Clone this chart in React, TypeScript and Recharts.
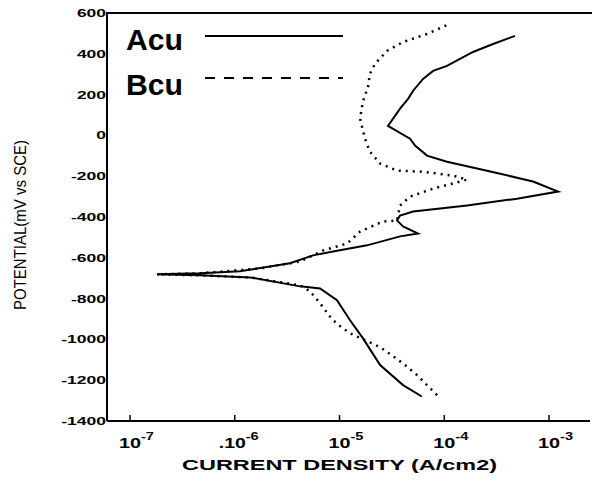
import { LineChart, Line, XAxis, YAxis, ReferenceLine } from "recharts"

// Acu (solid) polarization curve: cathodic end -> Ecorr -> anodic end
const acuCurrent = [
  6.1e-5, 4.04e-5, 2.44e-5, 1.67e-5, 1.26e-5, 9.46e-6, 6.52e-6, 4.2e-6, 1.4e-6, 4.66e-7,
  1.81e-7, 4.66e-7, 1.12e-6, 3.37e-6, 5.58e-6, 8.67e-6, 1.83e-5, 3.78e-5, 5.61e-5, 4.04e-5,
  3.54e-5, 3.78e-5, 5.04e-5, 1.65e-4, 4.94e-4, 1.22e-3, 7.03e-4, 2.56e-4, 1.06e-4, 6.84e-5,
  5.26e-5, 4.71e-5, 2.9e-5, 3.78e-5, 4.51e-5, 5.04e-5, 6.27e-5, 7.82e-5, 1.06e-4, 1.88e-4,
  2.92e-4, 4.73e-4,
]
const acuPotential = [
  -1280, -1224, -1126, -994, -906, -808, -750, -740, -696, -686,
  -681, -676, -666, -627, -588, -569, -539, -495, -481, -446,
  -417, -393, -373, -344, -310, -275, -226, -173, -129, -99,
  -50, -16, 47, 131, 179, 219, 277, 316, 341, 409,
  448, 488,
]

// Bcu (dotted) polarization curve
const bcuCurrent = [
  8.53e-5, 6.84e-5, 5.5e-5, 4.22e-5, 3.24e-5, 2.44e-5, 1.26e-5, 1.01e-5, 8.47e-6, 6.52e-6,
  5.22e-6, 4.2e-6, 1.4e-6, 4.66e-7, 1.81e-7, 4.66e-7, 1.74e-6, 4.2e-6, 6.97e-6, 1.18e-5,
  1.57e-5, 2.6e-5, 3.54e-5, 3.78e-5, 4.71e-5, 7.82e-5, 1.65e-4, 1.21e-4, 8.53e-5, 6.27e-5,
  3.54e-5, 2.44e-5, 1.95e-5, 1.75e-5, 1.57e-5, 1.67e-5, 1.87e-5, 1.95e-5, 2.18e-5, 2.84e-5,
  4.04e-5, 6.84e-5, 1.06e-4,
]
const bcuPotential = [
  -1273, -1224, -1175, -1126, -1082, -1038, -970, -935, -901, -823,
  -764, -735, -696, -686, -681, -676, -652, -618, -564, -530,
  -471, -422, -417, -344, -300, -261, -217, -197, -187, -178,
  -173, -138, -80, -16, 82, 165, 238, 302, 351, 414,
  458, 497, 541,
]

const potentialTicks = [600, 400, 200, 0, -200, -400, -600, -800, -1000, -1200, -1400]
const currentTicks = [1e-7, 1e-6, 1e-5, 1e-4, 1e-3]
const currentTickBase = ["10", ".10", "10", "10", "10"]
const currentTickExp = ["-7", "-6", "-5", "-4", "-3"]

const seriesNames = ["Acu", "Bcu"]

const FONT = "'Liberation Sans', Arial, Helvetica, sans-serif"

const toPoints = (cur: number[], pot: number[]) =>
  cur.map((c, i) => ({ current: c, potential: pot[i] }))

function PotentialTick({ x, y, payload }: any) {
  const s = String(payload.value)
  const w = s.replace("-", "").length * 9.7 + (s.startsWith("-") ? 6 : 0)
  return (
    <text x={x - w} y={y + 4} textLength={w} lengthAdjust="spacingAndGlyphs" fontFamily={FONT} fontWeight="bold" fontSize={11} fill="#000">
      {s}
    </text>
  )
}

function CurrentTick({ x, y, payload }: any) {
  const i = currentTicks.indexOf(payload.value)
  const base = currentTickBase[i]
  const dot = base.startsWith(".") ? 5 : 0
  return (
    <g>
      <line x1={x} x2={x} y1={y} y2={y - 6} stroke="#000" strokeWidth={1.5} />
      <text x={x - 11 - dot} y={y + 27} textLength={22 + dot} lengthAdjust="spacingAndGlyphs" fontFamily={FONT} fontWeight="bold" fontSize={15} fill="#000">
        {base}
      </text>
      <text x={x + 11} y={y + 19} textLength={13} lengthAdjust="spacingAndGlyphs" fontFamily={FONT} fontWeight="bold" fontSize={10} fill="#000">
        {currentTickExp[i]}
      </text>
    </g>
  )
}

const XTitle = () => (
  <text x={182} y={470} textLength={315} lengthAdjust="spacingAndGlyphs" fontFamily={FONT} fontWeight="bold" fontSize={15} fill="#000">
    CURRENT DENSITY (A/cm2)
  </text>
)

const YTitle = () => (
  <text transform="translate(26,310) rotate(-90)" textLength={170} lengthAdjust="spacingAndGlyphs" fontFamily={FONT} fontSize={17} fill="#000">
    POTENTIAL(mV vs SCE)
  </text>
)

// overlay: legend (name + line sample per series)
function Overlay() {
  return (
    <svg width={592} height={110} style={{ position: "absolute", left: 0, top: 0, pointerEvents: "none" }}>
      {seriesNames.map((name, i) => (
        <g key={name}>
          <text x={126} y={50 + i * 45} textLength={57} lengthAdjust="spacingAndGlyphs" fontFamily={FONT} fontWeight="bold" fontSize={30} fill="#000">
            {name}
          </text>
          <line x1={205} x2={343} y1={36 + i * 42} y2={36 + i * 42} stroke="#000" strokeWidth={2} strokeDasharray={i === 0 ? undefined : "10 9"} />
        </g>
      ))}
    </svg>
  )
}

export default function App() {
  return (
    <div style={{ position: "absolute", left: 0, top: 0, width: 592, height: 483, background: "#fff" }}>
      <LineChart width={592} height={483} margin={{ top: 13, right: 2, bottom: 0, left: 0 }}>
        <XAxis
          dataKey="current"
          type="number"
          scale="log"
          domain={[6.03e-8, 2.46e-3]}
          allowDataOverflow
          ticks={currentTicks}
          interval={0}
          height={62}
          tickSize={0}
          tickMargin={0}
          tickLine={false}
          tick={<CurrentTick />}
          axisLine={{ stroke: "#000", strokeWidth: 2 }}
          label={XTitle}
        />
        <YAxis
          dataKey="potential"
          type="number"
          domain={[-1400, 600]}
          allowDataOverflow
          ticks={potentialTicks}
          interval={0}
          width={107}
          tickSize={0}
          tickMargin={1}
          tickLine={false}
          tick={<PotentialTick />}
          axisLine={{ stroke: "#000", strokeWidth: 2 }}
          label={YTitle}
        />
        {/* top frame edge */}
        <ReferenceLine y={600} stroke="#000" strokeWidth={2} />
        <Line
          name="Acu"
          data={toPoints(acuCurrent, acuPotential)}
          dataKey="potential"
          type="linear"
          stroke="#000"
          strokeWidth={2}
          dot={false}
          isAnimationActive={false}
        />
        <Line
          name="Bcu"
          data={toPoints(bcuCurrent, bcuPotential)}
          dataKey="potential"
          type="linear"
          stroke="#000"
          strokeWidth={2.5}
          strokeDasharray="2 5"
          dot={false}
          isAnimationActive={false}
        />
      </LineChart>
      <div style={{ position: "absolute", left: 106, top: 12, width: 486, height: 2, background: "#000" }} />
      <Overlay />
    </div>
  )
}
